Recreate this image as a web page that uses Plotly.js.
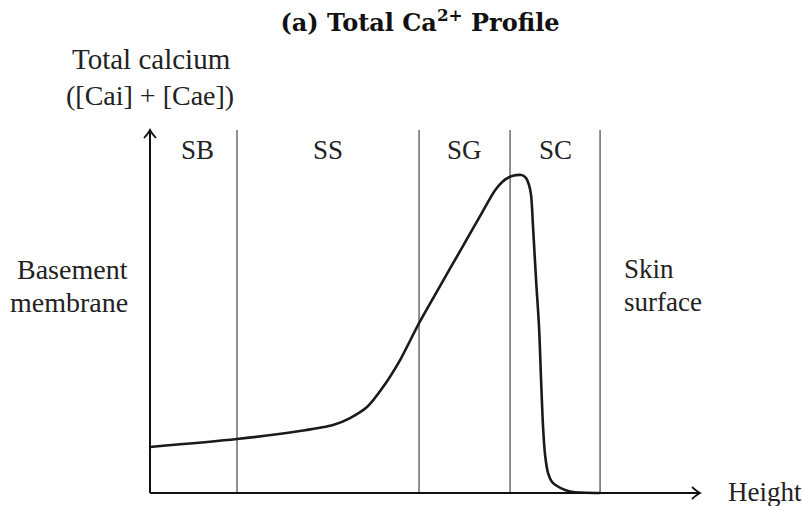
<!DOCTYPE html>
<html>
<head>
<meta charset="utf-8">
<script src="https://cdn.plot.ly/plotly-3.0.1.min.js"></script>
<style>html,body{margin:0;padding:0;background:#fff;}#chart{width:803px;height:506px;}</style>
</head>
<body>
<div id="chart"></div>
<script>
// Relative height through the epidermis (0 = basement membrane, 100 = skin surface)
const heightPos = [0, 19.33, 33.33, 40.67, 44.44, 48.22, 51.78, 55.56, 59.78, 64.44, 68.89, 73.33, 76.67, 78.44, 80.0, 81.33, 82.67, 83.56, 84.22, 84.67, 85.11, 85.78, 86.44, 86.89, 87.33, 87.78, 88.44, 89.33, 90.44, 92.22, 94.0, 100];
// Total calcium ([Cai] + [Cae]), relative units (peak = 100)
const totalCalcium = [14.47, 16.98, 19.50, 21.38, 23.58, 27.04, 33.33, 41.82, 53.46, 65.09, 76.10, 87.11, 95.28, 98.11, 99.5, 100, 100, 99.06, 96.86, 93.71, 83.65, 66.98, 52.20, 35.53, 20.75, 11.95, 6.29, 3.46, 2.20, 0.94, 0.31, 0];
// Layer boundaries (right edge of each layer) and layer names
const layerBounds = [19.33, 59.78, 80, 100];
const layerNames = ['SB', 'SS', 'SG', 'SC'];
const xMax = 122.2, yMax = 114.2;

const FONT = 'Liberation Serif, Times New Roman, serif';
// pixels per data unit (for arrowhead sizing)
const sx = 4.5, sy = 3.18;
const shapes = [];
// axes
shapes.push({type:'line', xref:'x', yref:'y', x0:0, y0:0, x1:xMax, y1:0, line:{color:'#111', width:2}, layer:'above'});
shapes.push({type:'line', xref:'x', yref:'y', x0:0, y0:0, x1:0, y1:yMax, line:{color:'#111', width:2}, layer:'above'});
// arrowheads (open, slightly curved like LaTeX arrows)
const hx = [xMax - 8/sx, xMax - 3/sx], hy = [6/sy, 1.5/sy];
shapes.push({type:'path', xref:'x', yref:'y', line:{color:'#111', width:1.8}, layer:'above',
  path:`M ${hx[0]},${hy[0]} Q ${hx[1]},${hy[1]} ${xMax},0 Q ${hx[1]},${-hy[1]} ${hx[0]},${-hy[0]}`});
const vx = [6/sx, 1.5/sx], vy = [yMax - 8/sy, yMax - 3/sy];
shapes.push({type:'path', xref:'x', yref:'y', line:{color:'#111', width:1.8}, layer:'above',
  path:`M ${-vx[0]},${vy[0]} Q ${-vx[1]},${vy[1]} 0,${yMax} Q ${vx[1]},${vy[1]} ${vx[0]},${vy[0]}`});
// layer boundaries
layerBounds.forEach(b => shapes.push({type:'line', xref:'x', yref:'y', x0:b, y0:0, x1:b, y1:yMax, line:{color:'#6a6a6a', width:1.5}, layer:'below'}));

const annotations = [];
let prev = 0;
layerNames.forEach((n, i) => {
  annotations.push({x:(prev + layerBounds[i]) / 2 + (i === 0 ? 0.8 : 0), y:yMax - 6.3, xref:'x', yref:'y', text:n, showarrow:false, font:{family:FONT, size:27, color:'#222'}});
  prev = layerBounds[i];
});
const lab = (text, x, y, xanchor, size) => annotations.push({x:x, y:y, xref:'paper', yref:'paper', text:text, showarrow:false, xanchor:xanchor, yanchor:'middle', font:{family:FONT, size:size || 27, color:'#222'}});
// paper coords: plot area spans px 141..709 horizontally and 123..500 vertically
const px = p => (p - 141) / 568;
const py = p => (500 - p) / 377;
lab('Total calcium', px(151), py(59), 'center', 29);
lab('([Cai] + [Cae])', px(150), py(95), 'center', 28);
lab('Basement', px(130), py(269), 'right', 28);
lab('membrane', px(130), py(302), 'right', 28);
lab('Skin', px(622), py(269), 'left');
lab('surface', px(622), py(302), 'left');
lab('Height', px(726), py(492), 'left');

const trace = {x:heightPos, y:totalCalcium, mode:'lines', line:{color:'#1a1a1a', width:2.6, shape:'spline', smoothing:0.8}, hoverinfo:'skip'};

const layout = {
  width:803, height:506,
  margin:{l:141, r:94, t:123, b:6},
  paper_bgcolor:'#fff', plot_bgcolor:'#fff',
  showlegend:false,
  title:{text:'<b>(a) Total Ca<sup>2+</sup> Profile</b>', font:{family:'DejaVu Serif, serif', size:24, color:'#111'}, x:px(420), xref:'paper', xanchor:'center', y:1 - 23/506, yref:'container', yanchor:'middle'},
  xaxis:{range:[-2, xMax + 2], visible:false, fixedrange:true},
  yaxis:{range:[-2.2, yMax + 2.2], visible:false, fixedrange:true},
  shapes:shapes,
  annotations:annotations
};
Plotly.newPlot('chart', [trace], layout, {displayModeBar:false, staticPlot:true});
</script>
</body>
</html>
